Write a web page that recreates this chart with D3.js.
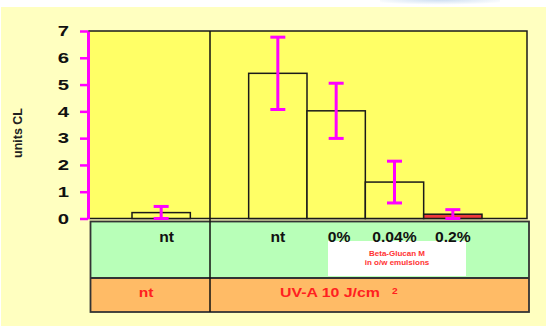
<!DOCTYPE html>
<html>
<head>
<meta charset="utf-8">
<script src="https://cdn.jsdelivr.net/npm/d3@7"></script>
<style>
  html, body { margin: 0; padding: 0; background: #ffffff; }
  svg { display: block; }
  text { font-family: "Liberation Sans", Arial, sans-serif; }
</style>
</head>
<body>
<svg id="chart" width="546" height="326"></svg>
<script>
// Treatment groups, in drawing order
const treatments = ["nt", "nt UV-A", "0%", "0.04%", "0.2%"];
const doseLabels = ["nt", "nt", "0%", "0.04%", "0.2%"];
// Mean chemiluminescence (units CL) and error half-widths
const means  = [0.22, 5.42, 4.02, 1.36, 0.16];
const errors = [0.23, 1.35, 1.03, 0.78, 0.17];
const barFills = ["#ffff66", "#ffff66", "#ffff66", "#ffff66", "#ee3b3b"];
const yTicks = [0, 1, 2, 3, 4, 5, 6, 7];
const irradiation = ["nt", "UV-A 10 J/cm"];
const vehicleNote = ["Beta-Glucan M", "in o/w emulsions"];

const svg = d3.select("#chart");
const W = 546, H = 326;

// wide lettering: scale text horizontally around its anchor point
function widen(sel, sx) {
  sel.each(function () {
    const t = d3.select(this);
    const px = +t.attr("x") || 0, py = +t.attr("y") || 0;
    t.attr("x", 0).attr("y", 0)
     .attr("transform", `translate(${px},${py}) scale(${sx},1)`);
  });
  return sel;
}

// page background with soft blue highlight along the top edge
const defs = svg.append("defs");
const glow = defs.append("radialGradient").attr("id", "glow")
  .attr("cx", "50%").attr("cy", "0%").attr("r", "60%");
glow.append("stop").attr("offset", "0%").attr("stop-color", "#cfdff2");
glow.append("stop").attr("offset", "100%").attr("stop-color", "#ffffff");
svg.append("rect").attr("width", W).attr("height", H).attr("fill", "#ffffff");
svg.append("rect").attr("x", 380).attr("y", 0).attr("width", 120).attr("height", 8).attr("fill", "url(#glow)");
svg.append("rect").attr("x", 1).attr("y", 7).attr("width", W - 1).attr("height", H - 7).attr("fill", "#ffffc0");

// plot frame
const plot = { left: 89, right: 527, top: 31, bottom: 218.5 };
const divider = 210;

// slots: a spacer separates the untreated control from the irradiated groups
const slots = [treatments[0], "spacer", ...treatments.slice(1)];
const x = d3.scaleBand().domain(slots).range([132, 482]).padding(0);
const y = d3.scaleLinear().domain([0, 7]).range([plot.bottom, plot.top]);

svg.append("rect")
  .attr("x", plot.left).attr("y", plot.top)
  .attr("width", plot.right - plot.left).attr("height", plot.bottom - plot.top)
  .attr("fill", "#ffff66").attr("stroke", "#1a1a1a").attr("stroke-width", 1.5);

// bars
svg.append("g").selectAll("rect").data(treatments).join("rect")
  .attr("x", d => x(d))
  .attr("y", (d, i) => y(means[i]))
  .attr("width", x.bandwidth())
  .attr("height", (d, i) => y(0) - y(means[i]))
  .attr("fill", (d, i) => barFills[i])
  .attr("stroke", "#1a1a1a").attr("stroke-width", 1.5);

// error bars
const eb = svg.append("g").attr("stroke", "#ff00ff").attr("stroke-width", 3);
treatments.forEach((t, i) => {
  const cx = x(t) + x.bandwidth() / 2;
  const lo = Math.max(0, means[i] - errors[i]);
  const hi = means[i] + errors[i];
  eb.append("line").attr("x1", cx).attr("x2", cx).attr("y1", y(hi)).attr("y2", y(lo));
  eb.append("line").attr("x1", cx - 7.5).attr("x2", cx + 7.5).attr("y1", y(hi)).attr("y2", y(hi));
  eb.append("line").attr("x1", cx - 7.5).attr("x2", cx + 7.5).attr("y1", y(lo)).attr("y2", y(lo));
});

// y axis
const axis = svg.append("g").attr("transform", `translate(${plot.left - 1},0)`)
  .call(d3.axisLeft(y).tickValues(yTicks).tickFormat(d3.format("d")).tickSize(8).tickSizeOuter(0).tickPadding(11));
axis.select(".domain").attr("stroke", "#ff00ff").attr("stroke-width", 3);
axis.selectAll(".tick line").attr("stroke", "#ff00ff").attr("stroke-width", 2.5);
axis.selectAll(".tick text")
  .attr("fill", "#111").attr("font-size", 14.5).attr("font-weight", "bold")
  .style("font-family", "'Liberation Sans', Arial, sans-serif")
  .each(function () {
    const t = d3.select(this);
    const px = +t.attr("x");
    t.attr("x", 0).attr("transform", `translate(${px},0) scale(1.4,1)`);
  });

svg.append("text")
  .attr("transform", "translate(22,133) rotate(-90)")
  .attr("text-anchor", "middle")
  .attr("font-size", 12.5).attr("font-weight", "bold").attr("fill", "#222")
  .text("units CL");

// table under the plot
const table = { left: 90.5, right: 529, top: 221.5, mid: 278, bottom: 312 };
svg.append("rect").attr("x", table.left).attr("y", table.top)
  .attr("width", table.right - table.left).attr("height", table.mid - table.top)
  .attr("fill", "#b8ffb8");
svg.append("rect").attr("x", table.left).attr("y", table.mid)
  .attr("width", table.right - table.left).attr("height", table.bottom - table.mid)
  .attr("fill", "#ffbb66");
svg.append("rect").attr("x", table.left).attr("y", table.top)
  .attr("width", table.right - table.left).attr("height", table.bottom - table.top)
  .attr("fill", "none").attr("stroke", "#333").attr("stroke-width", 1.8);
svg.append("line").attr("x1", table.left).attr("x2", table.right)
  .attr("y1", table.mid).attr("y2", table.mid).attr("stroke", "#333").attr("stroke-width", 1.8);

// divider between control and irradiated groups
svg.append("line").attr("x1", divider).attr("x2", divider)
  .attr("y1", plot.top).attr("y2", table.bottom)
  .attr("stroke", "#111").attr("stroke-width", 1.5);

// white note box
svg.append("rect").attr("x", 328).attr("y", 241).attr("width", 138).attr("height", 35).attr("fill", "#ffffff");
svg.append("g").selectAll("text").data(vehicleNote).join("text")
  .attr("x", 397).attr("y", (d, i) => 256 + i * 8.5)
  .attr("text-anchor", "middle").attr("font-size", 8).attr("font-weight", "bold")
  .attr("fill", "#ff3333")
  .text(d => d);

// dose labels
widen(svg.append("g").selectAll("text").data(treatments).join("text")
  .attr("x", (d, i) => x(d) + x.bandwidth() / 2 + (i === 0 ? 5.5 : i === 2 ? 3 : 0))
  .attr("y", 241.5)
  .attr("text-anchor", "middle").attr("font-size", 14).attr("font-weight", "bold")
  .attr("fill", "#111")
  .text((d, i) => doseLabels[i]), 1.12);

// irradiation row
widen(svg.append("text").attr("x", 146).attr("y", 297)
  .attr("text-anchor", "middle").attr("font-size", 12.5).attr("font-weight", "bold")
  .attr("fill", "#ff2020").text(irradiation[0]), 1.25);
widen(svg.append("text").attr("x", 280).attr("y", 297)
  .attr("font-size", 12.5).attr("font-weight", "bold").attr("fill", "#ff2020")
  .text(irradiation[1]), 1.27);
widen(svg.append("text").attr("x", 392).attr("y", 293.5)
  .attr("font-size", 8.5).attr("font-weight", "bold").attr("fill", "#ff2020")
  .text("2"), 1.2);
</script>
</body>
</html>
